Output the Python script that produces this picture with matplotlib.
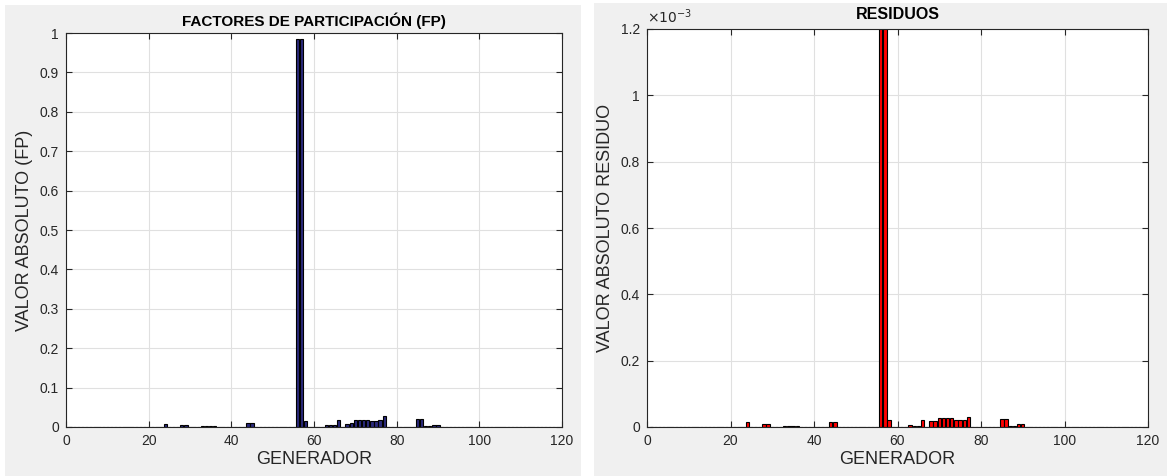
import numpy as np
import matplotlib.pyplot as plt
from matplotlib.patches import Rectangle
from matplotlib.ticker import FuncFormatter

plt.rcParams['font.family'] = ['Liberation Sans', 'DejaVu Sans']

# Generators 1..118, only the non-zero entries are listed
n_gen = 118
fp_gen = [24, 28, 29, 33, 34, 35, 36, 44, 45, 56, 57, 58, 63, 64, 65, 66, 68, 69,
          70, 71, 72, 73, 74, 75, 76, 77, 85, 86, 87, 88, 89, 90]
fp_val = [0.008, 0.004, 0.004, 0.003, 0.003, 0.003, 0.003, 0.010, 0.010, 0.985, 0.985, 0.015,
          0.006, 0.005, 0.005, 0.017, 0.008, 0.010, 0.019, 0.019, 0.019, 0.019, 0.016, 0.016,
          0.018, 0.028, 0.020, 0.020, 0.002, 0.002, 0.006, 0.006]

res_gen = [24, 28, 29, 33, 34, 35, 36, 44, 45, 56, 57, 58, 63, 64, 65, 66, 68, 69,
           70, 71, 72, 73, 74, 75, 76, 77, 85, 86, 87, 88, 89, 90]
res_val = [0.015e-3, 0.008e-3, 0.008e-3, 0.003e-3, 0.003e-3, 0.003e-3, 0.003e-3, 0.016e-3, 0.016e-3,
           2.5e-3, 2.5e-3, 0.020e-3, 0.005e-3, 0.003e-3, 0.003e-3, 0.022e-3, 0.018e-3, 0.018e-3,
           0.028e-3, 0.028e-3, 0.028e-3, 0.028e-3, 0.022e-3, 0.022e-3, 0.022e-3, 0.030e-3,
           0.025e-3, 0.025e-3, 0.002e-3, 0.002e-3, 0.010e-3, 0.010e-3]

gens = np.arange(1, n_gen + 1)
fp = np.zeros(n_gen)
fp[np.array(fp_gen) - 1] = fp_val
res = np.zeros(n_gen)
res[np.array(res_gen) - 1] = res_val

W, H = 1169, 476
fig = plt.figure(figsize=(W / 100, H / 100), dpi=100, facecolor='white')

# grey figure windows
fig.patches.append(Rectangle((5 / W, 0), 576 / W, 1 - 5 / H, transform=fig.transFigure,
                             facecolor='#f0f0f0', edgecolor='none', zorder=-1))
fig.patches.append(Rectangle((594 / W, 0), 573 / W, 1 - 3 / H, transform=fig.transFigure,
                             facecolor='#f0f0f0', edgecolor='none', zorder=-1))

ax1 = fig.add_axes([66 / W, 1 - 427 / H, (562 - 66) / W, (427 - 33) / H])
ax2 = fig.add_axes([647 / W, 1 - 427 / H, (1148 - 647) / W, (427 - 29) / H])

tc = '#262626'


def style(ax):
    ax.set_facecolor('white')
    ax.set_xlim(0, 120)
    ax.set_xticks(np.arange(0, 121, 20))
    ax.grid(True, color='#e0e0e0', linewidth=0.8)
    ax.set_axisbelow(True)
    ax.tick_params(direction='in', top=True, right=True, labelsize=10, colors=tc,
                   length=4, width=0.8, pad=5)
    for s in ax.spines.values():
        s.set_color(tc)
        s.set_linewidth(0.8)
    ax.set_xlabel('GENERADOR', fontsize=13, color=tc, labelpad=2)


ax1.bar(gens, fp, width=0.8, color='#2b2a7c', edgecolor='black', linewidth=0.8)
style(ax1)
ax1.set_ylim(0, 1)
ax1.set_yticks(np.arange(0, 1.01, 0.1))
ax1.yaxis.set_major_formatter(FuncFormatter(lambda v, p: f'{v:g}'))
ax1.set_ylabel('VALOR ABSOLUTO (FP)', fontsize=13, color=tc, labelpad=5)
ax1.set_title('FACTORES DE PARTICIPACIÓN (FP)', fontsize=11, fontweight='bold', pad=5)

ax2.bar(gens, res, width=0.8, color='#ff0000', edgecolor='black', linewidth=0.8)
style(ax2)
ax2.set_ylim(0, 1.2e-3)
ax2.set_yticks(np.arange(0, 1.21, 0.2) * 1e-3)
ax2.yaxis.set_major_formatter(FuncFormatter(lambda v, p: f'{round(v * 1e3, 1):g}'))
ax2.set_ylabel('VALOR ABSOLUTO RESIDUO', fontsize=13, color=tc, labelpad=5)
ax2.set_title('RESIDUOS', fontsize=11.5, fontweight='bold', pad=7)
ax2.text(0.0, 1.008, r'$\times10^{-3}$', transform=ax2.transAxes, fontsize=10,
         color=tc, ha='left', va='bottom')

fig.savefig('out.png', dpi=100, facecolor='white')
